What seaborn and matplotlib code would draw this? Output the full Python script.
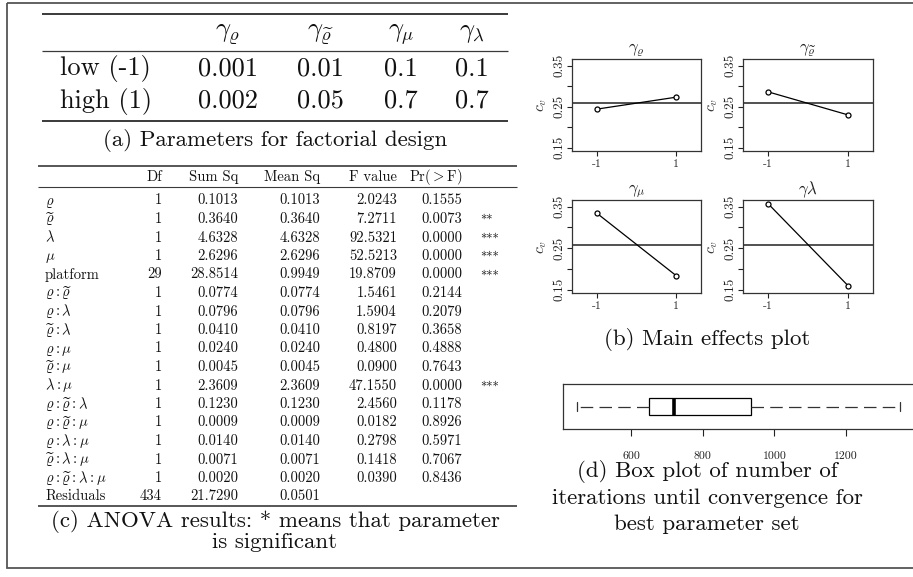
import numpy as np
import pandas as pd
import matplotlib
matplotlib.use("Agg")
import matplotlib.pyplot as plt
from matplotlib.patches import Rectangle
import seaborn as sns

# ---------------- data ----------------
PARAM_HEADERS = [r'$\gamma_{\varrho}$', r'$\gamma_{\widetilde{\varrho}}$',
                 r'$\gamma_{\mu}$', r'$\gamma_{\lambda}$']
LEVEL_NAMES = ['low (-1)', 'high (1)']
LOW_VALUES = ['0.001', '0.01', '0.1', '0.1']
HIGH_VALUES = ['0.002', '0.05', '0.7', '0.7']

ANOVA_HEADERS = ['Df', 'Sum Sq', 'Mean Sq', 'F value', r'Pr($>$F)']
ANOVA_TERMS = [r'$\varrho$', r'$\widetilde{\varrho}$', r'$\lambda$', r'$\mu$', 'platform',
               r'$\varrho:\widetilde{\varrho}$', r'$\varrho:\lambda$',
               r'$\widetilde{\varrho}:\lambda$', r'$\varrho:\mu$',
               r'$\widetilde{\varrho}:\mu$', r'$\lambda:\mu$',
               r'$\varrho:\widetilde{\varrho}:\lambda$', r'$\varrho:\widetilde{\varrho}:\mu$',
               r'$\varrho:\lambda:\mu$', r'$\widetilde{\varrho}:\lambda:\mu$',
               r'$\varrho:\widetilde{\varrho}:\lambda:\mu$', 'Residuals']
ANOVA_DF = [1, 1, 1, 1, 29, 1, 1, 1, 1, 1, 1, 1, 1, 1, 1, 1, 434]
ANOVA_SUMSQ = [0.1013, 0.3640, 4.6328, 2.6296, 28.8514, 0.0774, 0.0796, 0.0410,
               0.0240, 0.0045, 2.3609, 0.1230, 0.0009, 0.0140, 0.0071, 0.0020, 21.7290]
ANOVA_MEANSQ = [0.1013, 0.3640, 4.6328, 2.6296, 0.9949, 0.0774, 0.0796, 0.0410,
                0.0240, 0.0045, 2.3609, 0.1230, 0.0009, 0.0140, 0.0071, 0.0020, 0.0501]
ANOVA_F = [2.0243, 7.2711, 92.5321, 52.5213, 19.8709, 1.5461, 1.5904, 0.8197,
           0.4800, 0.0900, 47.1550, 2.4560, 0.0182, 0.2798, 0.1418, 0.0390, None]
ANOVA_P = [0.1555, 0.0073, 0.0000, 0.0000, 0.0000, 0.2144, 0.2079, 0.3658,
           0.4888, 0.7643, 0.0000, 0.1178, 0.8926, 0.5971, 0.7067, 0.8436, None]
ANOVA_SIG = ['', '**', '***', '***', '***', '', '', '', '', '', '***',
             '', '', '', '', '', '']

EFFECT_TITLES = [r'$\gamma_{\varrho}$', r'$\gamma_{\widetilde{\varrho}}$',
                 r'$\gamma_{\mu}$', r'$\gamma\lambda$']
LEVELS = [-1, 1]
LEVEL_LABELS = ['-1', '1']
EFFECT_RHO = [0.244, 0.273]
EFFECT_RHO_TILDE = [0.286, 0.230]
EFFECT_MU = [0.334, 0.184]
EFFECT_LAMBDA = [0.357, 0.160]
GRAND_MEAN = 0.258
Y_TICKS = [0.15, 0.20, 0.25, 0.30, 0.35]
Y_TICK_LABELS = ['0.15', '', '0.25', '', '0.35']

ITER_SUMMARY = [449, 650, 720, 935, 1351]   # min, Q1, median, Q3, max
ITER_TICKS = [600, 800, 1000, 1200]

CAPTION_A = '(a) Parameters for factorial design'
CAPTION_B = '(b) Main effects plot'
CAPTION_C = ['(c) ANOVA results: * means that parameter', 'is significant']
CAPTION_D = ['(d) Box plot of number of', 'iterations until convergence for',
             'best parameter set']

# ---------------- style ----------------
sns.set_style('ticks')
plt.rcParams['font.family'] = ['cmr10', 'DejaVu Serif']
plt.rcParams['mathtext.fontset'] = 'cm'
plt.rcParams['axes.unicode_minus'] = False
plt.rcParams['axes.formatter.use_mathtext'] = True

W, H = 913, 577
fig = plt.figure(figsize=(W / 100, H / 100), dpi=100)
fig.patch.set_facecolor('white')


def rect(x0, y0, x1, y1):
    return [x0 / W, 1 - y1 / H, (x1 - x0) / W, (y1 - y0) / H]


bg = fig.add_axes([0, 0, 1, 1])
bg.set_xlim(0, W)
bg.set_ylim(H, 0)
bg.axis('off')

INK = '#111111'
RULE = '#3a3a3a'

# outer frame
bg.add_patch(Rectangle((7, 3), 930, 565, fill=False, lw=1.3, ec='#555555'))

# ---------------- table (a) ----------------
bg.hlines(14, 42, 508, lw=1.4, color=RULE)
bg.hlines(51, 42, 508, lw=0.9, color=RULE)
bg.hlines(121, 42, 508, lw=1.4, color=RULE)
col_a = [228, 320, 401, 472]
for cx, hdr in zip(col_a, PARAM_HEADERS):
    bg.text(cx, 37, hdr, ha='center', va='baseline', fontsize=19, color=INK)
for yb, name, vals in zip([75, 108], LEVEL_NAMES, [LOW_VALUES, HIGH_VALUES]):
    bg.text(60, yb, name, ha='left', va='baseline', fontsize=19, color=INK)
    for cx, v in zip(col_a, vals):
        bg.text(cx, yb, v, ha='center', va='baseline', fontsize=19, color=INK)
bg.text(275, 146, CAPTION_A, ha='center', va='baseline', fontsize=16.5, color=INK)

# ---------------- table (c) ----------------
bg.hlines(166, 38, 517, lw=1.2, color=RULE)
bg.hlines(187, 38, 517, lw=0.8, color=RULE)
bg.hlines(506, 38, 517, lw=1.2, color=RULE)
col_c = [162, 238, 320, 397, 462]
FS_C = 10.5
for cx, hdr in zip(col_c, ANOVA_HEADERS):
    bg.text(cx, 181, hdr, ha='right', va='baseline', fontsize=FS_C, color=INK)
for i, term in enumerate(ANOVA_TERMS):
    yb = 204.5 + i * 18.5
    bg.text(45, yb, term, ha='left', va='baseline', fontsize=FS_C, color=INK)
    cells = [str(ANOVA_DF[i]), f'{ANOVA_SUMSQ[i]:.4f}', f'{ANOVA_MEANSQ[i]:.4f}',
             '' if ANOVA_F[i] is None else f'{ANOVA_F[i]:.4f}',
             '' if ANOVA_P[i] is None else f'{ANOVA_P[i]:.4f}']
    for cx, c in zip(col_c, cells):
        bg.text(cx, yb, c, ha='right', va='baseline', fontsize=FS_C, color=INK)
    if ANOVA_SIG[i]:
        bg.text(480, yb + 1, ANOVA_SIG[i], ha='left', va='baseline', fontsize=9, color=INK)
for yb, line in zip([527, 548], CAPTION_C):
    bg.text(275, yb, line, ha='center', va='baseline', fontsize=16.5, color=INK)

# ---------------- main effects (b) ----------------
boxes = [(572, 59, 701, 151), (743, 59, 873, 151),
         (572, 200, 701, 293), (743, 200, 873, 293)]
series = [EFFECT_RHO, EFFECT_RHO_TILDE, EFFECT_MU, EFFECT_LAMBDA]
for box, title, vals in zip(boxes, EFFECT_TITLES, series):
    ax = fig.add_axes(rect(*box))
    df = pd.DataFrame({'level': LEVELS, 'cv': vals})
    ax.axhline(GRAND_MEAN, color='#333333', lw=1.2, zorder=1)
    sns.lineplot(data=df, x='level', y='cv', ax=ax, color='black', lw=0.9,
                 marker='o', markersize=3.6, markerfacecolor='white',
                 markeredgecolor='black', markeredgewidth=0.9, zorder=3)
    ax.set_xlim(-1.63, 1.63)
    ax.set_ylim(0.142, 0.366)
    ax.set_xticks(LEVELS)
    ax.set_xticklabels(LEVEL_LABELS)
    ax.set_yticks(Y_TICKS)
    ax.set_yticklabels(Y_TICK_LABELS)
    ax.tick_params(axis='y', direction='out', length=3.5, width=0.8, pad=1.5,
                   labelsize=9.5, labelrotation=90, colors='#222222')
    ax.tick_params(axis='x', direction='out', length=3.5, width=0.8, pad=2.5,
                   labelsize=8.5, colors='#222222')
    for lab in ax.get_yticklabels():
        lab.set_va('center')
    for sp in ax.spines.values():
        sp.set_visible(True)
        sp.set_linewidth(0.9)
        sp.set_color('#333333')
    ax.set_xlabel('')
    ax.set_ylabel(r'$c_v$', fontsize=11.5, labelpad=3, color='#333333')
    ax.set_title(title, fontsize=12, pad=2, color='#222222')

bg.text(707, 345, CAPTION_B, ha='center', va='baseline', fontsize=16.5, color=INK)

# ---------------- box plot (d) ----------------
axb = fig.add_axes(rect(563, 384, 930, 429))
sns.boxplot(x=ITER_SUMMARY, ax=axb, width=0.36, color='white', linecolor='black',
            linewidth=0.9, fliersize=0, saturation=1,
            medianprops=dict(color='black', linewidth=2.6),
            whiskerprops=dict(color='#333333', linestyle=(0, (10, 5)), linewidth=0.9),
            capprops=dict(color='#333333', linewidth=0.9),
            boxprops=dict(edgecolor='black', facecolor='white', linewidth=0.9))
axb.set_xlim(410, 1434)
axb.set_ylim(0.5, -0.5)
axb.set_xticks(ITER_TICKS)
axb.set_xticklabels([str(t) for t in ITER_TICKS])
axb.set_yticks([])
axb.set_xlabel('')
axb.set_ylabel('')
axb.tick_params(axis='x', direction='out', length=5, width=0.8, pad=11,
                labelsize=8.5, colors='#222222')
for sp in axb.spines.values():
    sp.set_visible(True)
    sp.set_linewidth(0.9)
    sp.set_color('#333333')

for yb, line in zip([477, 504, 530], CAPTION_D):
    bg.text(707, yb, line, ha='center', va='baseline', fontsize=16.5, color=INK)

fig.savefig('out.png', dpi=100, facecolor='white')
